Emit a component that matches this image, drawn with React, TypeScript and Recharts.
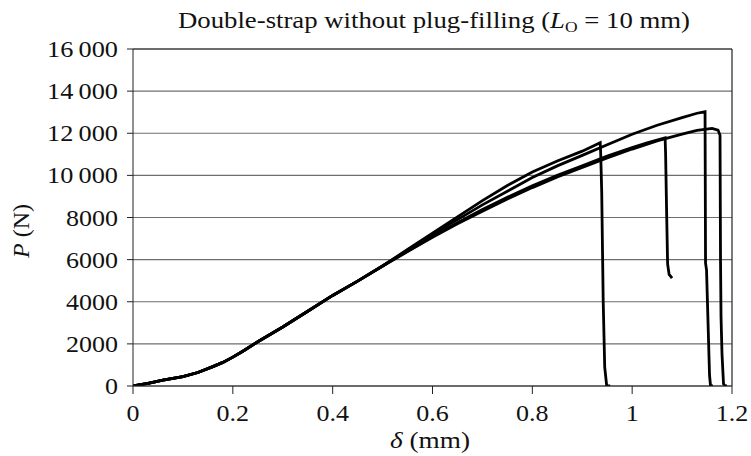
import React from 'react';
import { LineChart, Line, XAxis, YAxis, CartesianGrid, ReferenceLine } from 'recharts';

// shared rising part (all four specimens overlap here)
const baseDelta = [0, 0.03, 0.06, 0.1, 0.13, 0.16, 0.18, 0.2, 0.22, 0.25, 0.3, 0.35, 0.4, 0.45, 0.5];
const baseLoad = [0, 130, 280, 450, 640, 920, 1120, 1370, 1650, 2100, 2800, 3550, 4300, 4980, 5700];

// specimen 1: fails first
const deltaA = [0.55, 0.6, 0.65, 0.7, 0.75, 0.8, 0.85, 0.9, 0.936, 0.937, 0.939, 0.942, 0.945, 0.949, 0.956];
const loadA = [6480, 7260, 8030, 8800, 9520, 10160, 10680, 11150, 11550, 11000, 9200, 4000, 900, 0, 0];

// specimen 2: highest peak
const deltaC = [0.55, 0.6, 0.65, 0.7, 0.75, 0.8, 0.85, 0.9, 0.95, 1.0, 1.05, 1.1, 1.13, 1.146, 1.147, 1.149, 1.152, 1.155, 1.157, 1.162];
const loadC = [6450, 7200, 7900, 8600, 9250, 9900, 10450, 10950, 11450, 11950, 12380, 12740, 12950, 13020, 5830, 5500, 3000, 500, 0, 0];

// specimen 3: stops at ~5100 N
const deltaB = [0.55, 0.6, 0.65, 0.7, 0.75, 0.8, 0.85, 0.9, 0.95, 1.0, 1.03, 1.066, 1.067, 1.069, 1.071, 1.074, 1.08];
const loadB = [6400, 7100, 7750, 8380, 8960, 9500, 10000, 10450, 10920, 11320, 11550, 11780, 11000, 8300, 5800, 5300, 5120];

// specimen 4: last to fail
const deltaD = [0.55, 0.6, 0.65, 0.7, 0.75, 0.8, 0.85, 0.9, 0.95, 1.0, 1.05, 1.1, 1.13, 1.16, 1.172, 1.176, 1.177, 1.178, 1.18, 1.183, 1.186, 1.19];
const loadD = [6380, 7060, 7700, 8300, 8880, 9420, 9920, 10380, 10830, 11250, 11640, 11960, 12140, 12230, 12150, 11900, 6000, 3300, 1500, 100, 0, 0];

const xTicks = [0, 0.2, 0.4, 0.6, 0.8, 1, 1.2];
const yTicks = [0, 2000, 4000, 6000, 8000, 10000, 12000, 14000, 16000];

const build = (d: number[], p: number[]) => {
  const xs = [...baseDelta, ...d];
  const ys = [...baseLoad, ...p];
  return xs.map((x, i) => ({ x, y: ys[i] }));
};

const series = [
  { id: 'a', data: build(deltaA, loadA) },
  { id: 'b', data: build(deltaB, loadB) },
  { id: 'c', data: build(deltaC, loadC) },
  { id: 'd', data: build(deltaD, loadD) },
];

const FONT = '"Liberation Serif", "Times New Roman", serif';

const fmtY = (v: number) => (v >= 10000 ? `${Math.floor(v / 1000)}\u2009000` : String(v));

// the source figure's lettering is wide; size each label by its characters
const labelWidth = (s: string) =>
  [...s].reduce((w, c) => w + (c === '.' ? 6.5 : c === '\u2009' ? 6 : 13), 0);

const XTick = (props: any) => {
  const { x, y, payload } = props;
  const s = String(payload.value);
  return (
    <text x={x} y={y} dy={24} textAnchor="middle" fill="#111" textLength={labelWidth(s)}
      lengthAdjust="spacingAndGlyphs" style={{ fontFamily: FONT, fontSize: 23 }}>
      {s}
    </text>
  );
};

const YTick = (props: any) => {
  const { x, y, payload } = props;
  const s = fmtY(payload.value);
  return (
    <text x={x} y={y} dy={8} textAnchor="end" fill="#111" textLength={labelWidth(s)}
      lengthAdjust="spacingAndGlyphs" style={{ fontFamily: FONT, fontSize: 23 }}>
      {s}
    </text>
  );
};

export default function App() {
  return (
    <div style={{ position: 'absolute', left: 0, top: 0, width: 751, height: 456, background: '#fff' }}>
      <LineChart width={751} height={456} margin={{ top: 49, right: 19, left: 0, bottom: 0 }}>
        <CartesianGrid vertical={false} stroke="#6e6e6e" strokeWidth={1.2} />
        <XAxis
          type="number"
          dataKey="x"
          domain={[0, 1.2]}
          ticks={xTicks}
          height={70}
          tickSize={8}
          tickMargin={3}
          tick={<XTick />}
          stroke="#222"
          allowDataOverflow
        />
        <YAxis
          type="number"
          dataKey="y"
          domain={[0, 16000]}
          ticks={yTicks}
          width={133}
          tickSize={6}
          tickMargin={9}
          tick={<YTick />}
          stroke="#222"
          allowDataOverflow
        />
        <ReferenceLine x={1.2} stroke="#222" strokeWidth={1.2} />
        <ReferenceLine y={16000} stroke="#222" strokeWidth={1.2} />
        {series.map((s) => (
          <Line
            key={s.id}
            data={s.data}
            dataKey="y"
            type="linear"
            stroke="#000"
            strokeWidth={2.8}
            dot={false}
            isAnimationActive={false}
          />
        ))}
      </LineChart>
      <svg width={751} height={456} style={{ position: 'absolute', left: 0, top: 0, pointerEvents: 'none' }}>
        <text x={178} y={28} textLength={512} lengthAdjust="spacingAndGlyphs" fill="#111"
          style={{ fontFamily: FONT, fontSize: 23 }}>
          Double-strap without plug-filling (<tspan fontStyle="italic">L</tspan>
          <tspan fontSize={15} dy={4}>O</tspan>
          <tspan dy={-4}> = 10 mm)</tspan>
        </text>
        <text transform="translate(29,231) rotate(-90)" textAnchor="middle" textLength={54}
          lengthAdjust="spacingAndGlyphs" fill="#111" style={{ fontFamily: FONT, fontSize: 24 }}>
          <tspan fontStyle="italic">P</tspan> (N)
        </text>
        <text x={390} y={448} textLength={80} lengthAdjust="spacingAndGlyphs" fill="#111"
          style={{ fontFamily: FONT, fontSize: 24 }}>
          <tspan fontStyle="italic">δ</tspan> (mm)
        </text>
      </svg>
    </div>
  );
}
